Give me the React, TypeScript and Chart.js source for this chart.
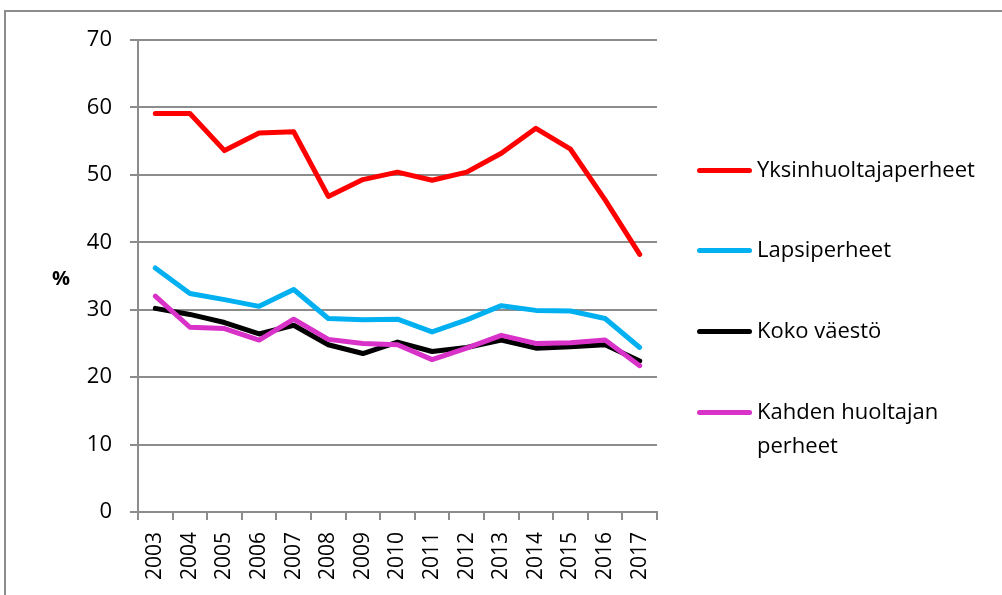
import React, { useEffect, useRef } from "react";
import { Chart, registerables } from "chart.js";

Chart.register(...registerables);

const years = ["2003", "2004", "2005", "2006", "2007", "2008", "2009", "2010", "2011", "2012", "2013", "2014", "2015", "2016", "2017"];
const yksinhuoltajaperheet = [59.1, 59.1, 53.6, 56.2, 56.4, 46.8, 49.3, 50.4, 49.2, 50.4, 53.2, 56.9, 53.8, 46.3, 38.2];
const lapsiperheet = [36.2, 32.4, 31.5, 30.5, 33.0, 28.7, 28.5, 28.6, 26.7, 28.5, 30.6, 29.9, 29.8, 28.7, 24.4];
const kokoVaesto = [30.2, 29.3, 28.1, 26.4, 27.7, 24.8, 23.5, 25.2, 23.8, 24.4, 25.5, 24.3, 24.5, 24.8, 22.4];
const kahdenHuoltajan = [32.0, 27.4, 27.2, 25.5, 28.6, 25.6, 25.0, 24.8, 22.6, 24.3, 26.2, 25.0, 25.1, 25.5, 21.7];
const yTicks = [0, 10, 20, 30, 40, 50, 60, 70];

const FONT = "'Open Sans', Lato, sans-serif";
const GRID = "#8c8c8c";

const legendItems = [
  { label: ["Yksinhuoltajaperheet"], color: "#ff0000", top: 153 },
  { label: ["Lapsiperheet"], color: "#00b0f0", top: 233 },
  { label: ["Koko väestö"], color: "#000000", top: 314 },
  { label: ["Kahden huoltajan", "perheet"], color: "#d932c8", top: 395 },
];

export default function App() {
  const ref = useRef<HTMLCanvasElement | null>(null);

  useEffect(() => {
    if (!ref.current) return;
    const chart = new Chart(ref.current, {
      type: "line",
      data: {
        labels: years,
        datasets: [
          { label: "Yksinhuoltajaperheet", data: yksinhuoltajaperheet, borderColor: "#ff0000", order: 3 },
          { label: "Lapsiperheet", data: lapsiperheet, borderColor: "#00b0f0", order: 2 },
          { label: "Koko väestö", data: kokoVaesto, borderColor: "#000000", order: 1 },
          { label: "Kahden huoltajan perheet", data: kahdenHuoltajan, borderColor: "#d932c8", order: 0 },
        ].map((d) => ({
          ...d,
          borderWidth: 5,
          pointRadius: 0,
          pointHoverRadius: 0,
          tension: 0,
          fill: false,
          borderCapStyle: "round" as const,
          borderJoinStyle: "round" as const,
        })),
      },
      options: {
        animation: false,
        responsive: false,
        devicePixelRatio: 1,
        layout: { padding: { top: 40, right: 345, left: 0, bottom: 0 } },
        plugins: { legend: { display: false }, tooltip: { enabled: false } },
        scales: {
          x: {
            type: "category",
            offset: true,
            grid: { display: true, drawOnChartArea: false, drawTicks: true, tickLength: 8, offset: true, color: GRID, lineWidth: 2 },
            border: { display: true, color: GRID, width: 2 },
            ticks: {
              autoSkip: false,
              minRotation: 90,
              maxRotation: 90,
              padding: 12,
              color: "#000",
              font: { family: FONT, size: 21 },
            },
            afterFit: (s: any) => { s.height = 83; },
          },
          y: {
            min: 0,
            max: 70,
            afterBuildTicks: (s: any) => { s.ticks = yTicks.map((v) => ({ value: v })); },
            grid: { color: GRID, lineWidth: 2, tickLength: 8, drawTicks: true },
            border: { display: true, color: GRID, width: 2 },
            ticks: { padding: 18, color: "#000", font: { family: FONT, size: 22 } },
            afterFit: (s: any) => { s.width = 138; },
          },
        },
      },
    });
    return () => chart.destroy();
  }, []);

  return (
    <div style={{ position: "fixed", left: 0, top: 0, width: 1002, height: 595, overflow: "hidden", background: "#fff" }}>
      <div style={{ position: "absolute", left: 4, top: 10, width: 1100, height: 700, borderLeft: `2px solid ${GRID}`, borderTop: `2px solid ${GRID}` }} />
      <canvas ref={ref} width={1002} height={595} style={{ position: "absolute", left: 0, top: 0, width: 1002, height: 595 }} />
      <div style={{ position: "absolute", left: 52, top: 263, fontFamily: FONT, fontSize: 20, fontWeight: 700, lineHeight: "30px", color: "#000" }}>%</div>
      {legendItems.map((it) => (
        <div key={it.label.join(" ")} style={{ position: "absolute", left: 697, top: it.top, fontFamily: FONT, fontSize: 22, lineHeight: "34px", color: "#000" }}>
          <div style={{ position: "absolute", left: 0, top: 15, width: 55, height: 5, borderRadius: 3, background: it.color }} />
          <div style={{ position: "absolute", left: 60, top: -2, whiteSpace: "nowrap" }}>
            {it.label.map((l) => (<div key={l}>{l}</div>))}
          </div>
        </div>
      ))}
    </div>
  );
}
